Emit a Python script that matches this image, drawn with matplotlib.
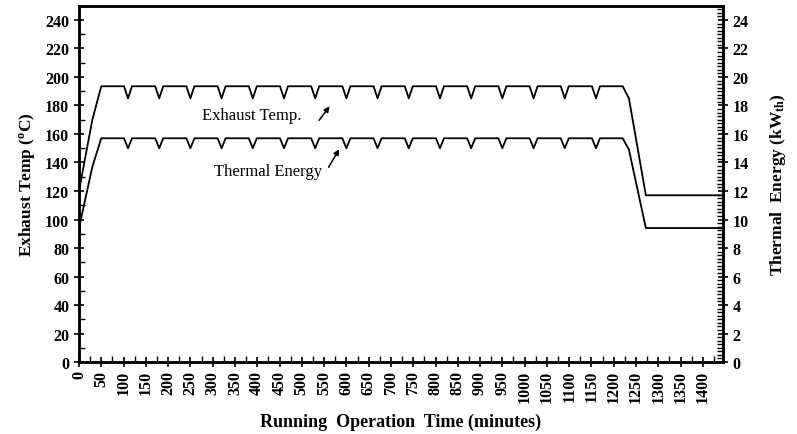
import matplotlib.pyplot as plt
from matplotlib.ticker import MultipleLocator

# values
dip_times = [110, 180, 250, 320, 390, 460, 530, 600, 670, 740, 810, 880, 950, 1020, 1090, 1160]
dip_half = 9

ramp_up_t = [0, 30, 50]
ramp_down_t = [1220, 1234, 1272, 1450]

exhaust_up = [120, 170, 193.5]
exhaust_top = 193.5
exhaust_dip = 185
exhaust_down = [193.5, 185, 117, 117]

thermal_up = [9.4, 13.7, 15.7]
thermal_top = 15.7
thermal_dip = 15.0
thermal_down = [15.7, 14.9, 9.4, 9.4]


def build(up, top, dip, down):
    t = list(ramp_up_t)
    v = list(up)
    for d in dip_times:
        t += [d - dip_half, d, d + dip_half]
        v += [top, dip, top]
    t += ramp_down_t
    v += down
    return t, v


plt.rcParams['font.family'] = ['Liberation Serif', 'DejaVu Serif']
plt.rcParams['mathtext.fontset'] = 'custom'
plt.rcParams['mathtext.rm'] = 'Liberation Serif:bold'
plt.rcParams['mathtext.it'] = 'Liberation Serif:bold'

fig = plt.figure(figsize=(7.97, 4.35), dpi=100)
ax = fig.add_axes([0.0991, 0.1655, 0.808, 0.819])
ax2 = ax.twinx()

t1, v1 = build(exhaust_up, exhaust_top, exhaust_dip, exhaust_down)
t2, v2 = build(thermal_up, thermal_top, thermal_dip, thermal_down)
ax.plot(t1, v1, color='black', lw=1.3)
ax2.plot(t2, v2, color='black', lw=1.3)

ax.set_xlim(0, 1445)
ax.set_ylim(0, 250)
ax2.set_ylim(0, 25)

ax.xaxis.set_major_locator(MultipleLocator(50))
ax.xaxis.set_minor_locator(MultipleLocator(25))
ax.yaxis.set_major_locator(MultipleLocator(20))
ax.yaxis.set_minor_locator(MultipleLocator(10))
ax2.yaxis.set_major_locator(MultipleLocator(2))
ax2.yaxis.set_minor_locator(MultipleLocator(0.25))
ax.set_xticks(range(0, 1401, 50))

ax.tick_params(axis='both', which='major', direction='inout', length=7, width=1.2, labelsize=11.5)
ax.tick_params(axis='both', which='minor', direction='in', length=4, width=1)
ax.tick_params(axis='x', labelrotation=90, pad=2)
ax2.tick_params(axis='y', which='major', direction='inout', length=7, width=1.2, labelsize=11.5)
ax2.tick_params(axis='y', which='minor', direction='in', length=4, width=1)
for lab in ax.get_xticklabels() + ax.get_yticklabels() + ax2.get_yticklabels():
    lab.set_fontweight('bold')

for a in (ax, ax2):
    for s in a.spines.values():
        s.set_linewidth(1.8)

ax.set_xlabel('Running  Operation  Time (minutes)', fontsize=13, fontweight='bold', labelpad=8)
ax.set_ylabel('Exhaust Temp ($^{\\mathrm{o}}$C)', fontsize=12.5, fontweight='bold', labelpad=6)
ax2.set_ylabel('Thermal  Energy (kW$_{\\mathrm{th}}$)', fontsize=12.5, fontweight='bold', labelpad=14)

ax.annotate('', xy=(566, 181), xytext=(535, 168),
            arrowprops=dict(arrowstyle='-|>', color='black', lw=1.1, mutation_scale=8))
ax.annotate('', xy=(587, 151), xytext=(557, 135),
            arrowprops=dict(arrowstyle='-|>', color='black', lw=1.1, mutation_scale=8))
ax.text(387, 173, 'Exhaust Temp.', fontsize=12, ha='center', va='center')
ax.text(425, 134, 'Thermal Energy', fontsize=12, ha='center', va='center')

fig.savefig('out.png', dpi=100)
